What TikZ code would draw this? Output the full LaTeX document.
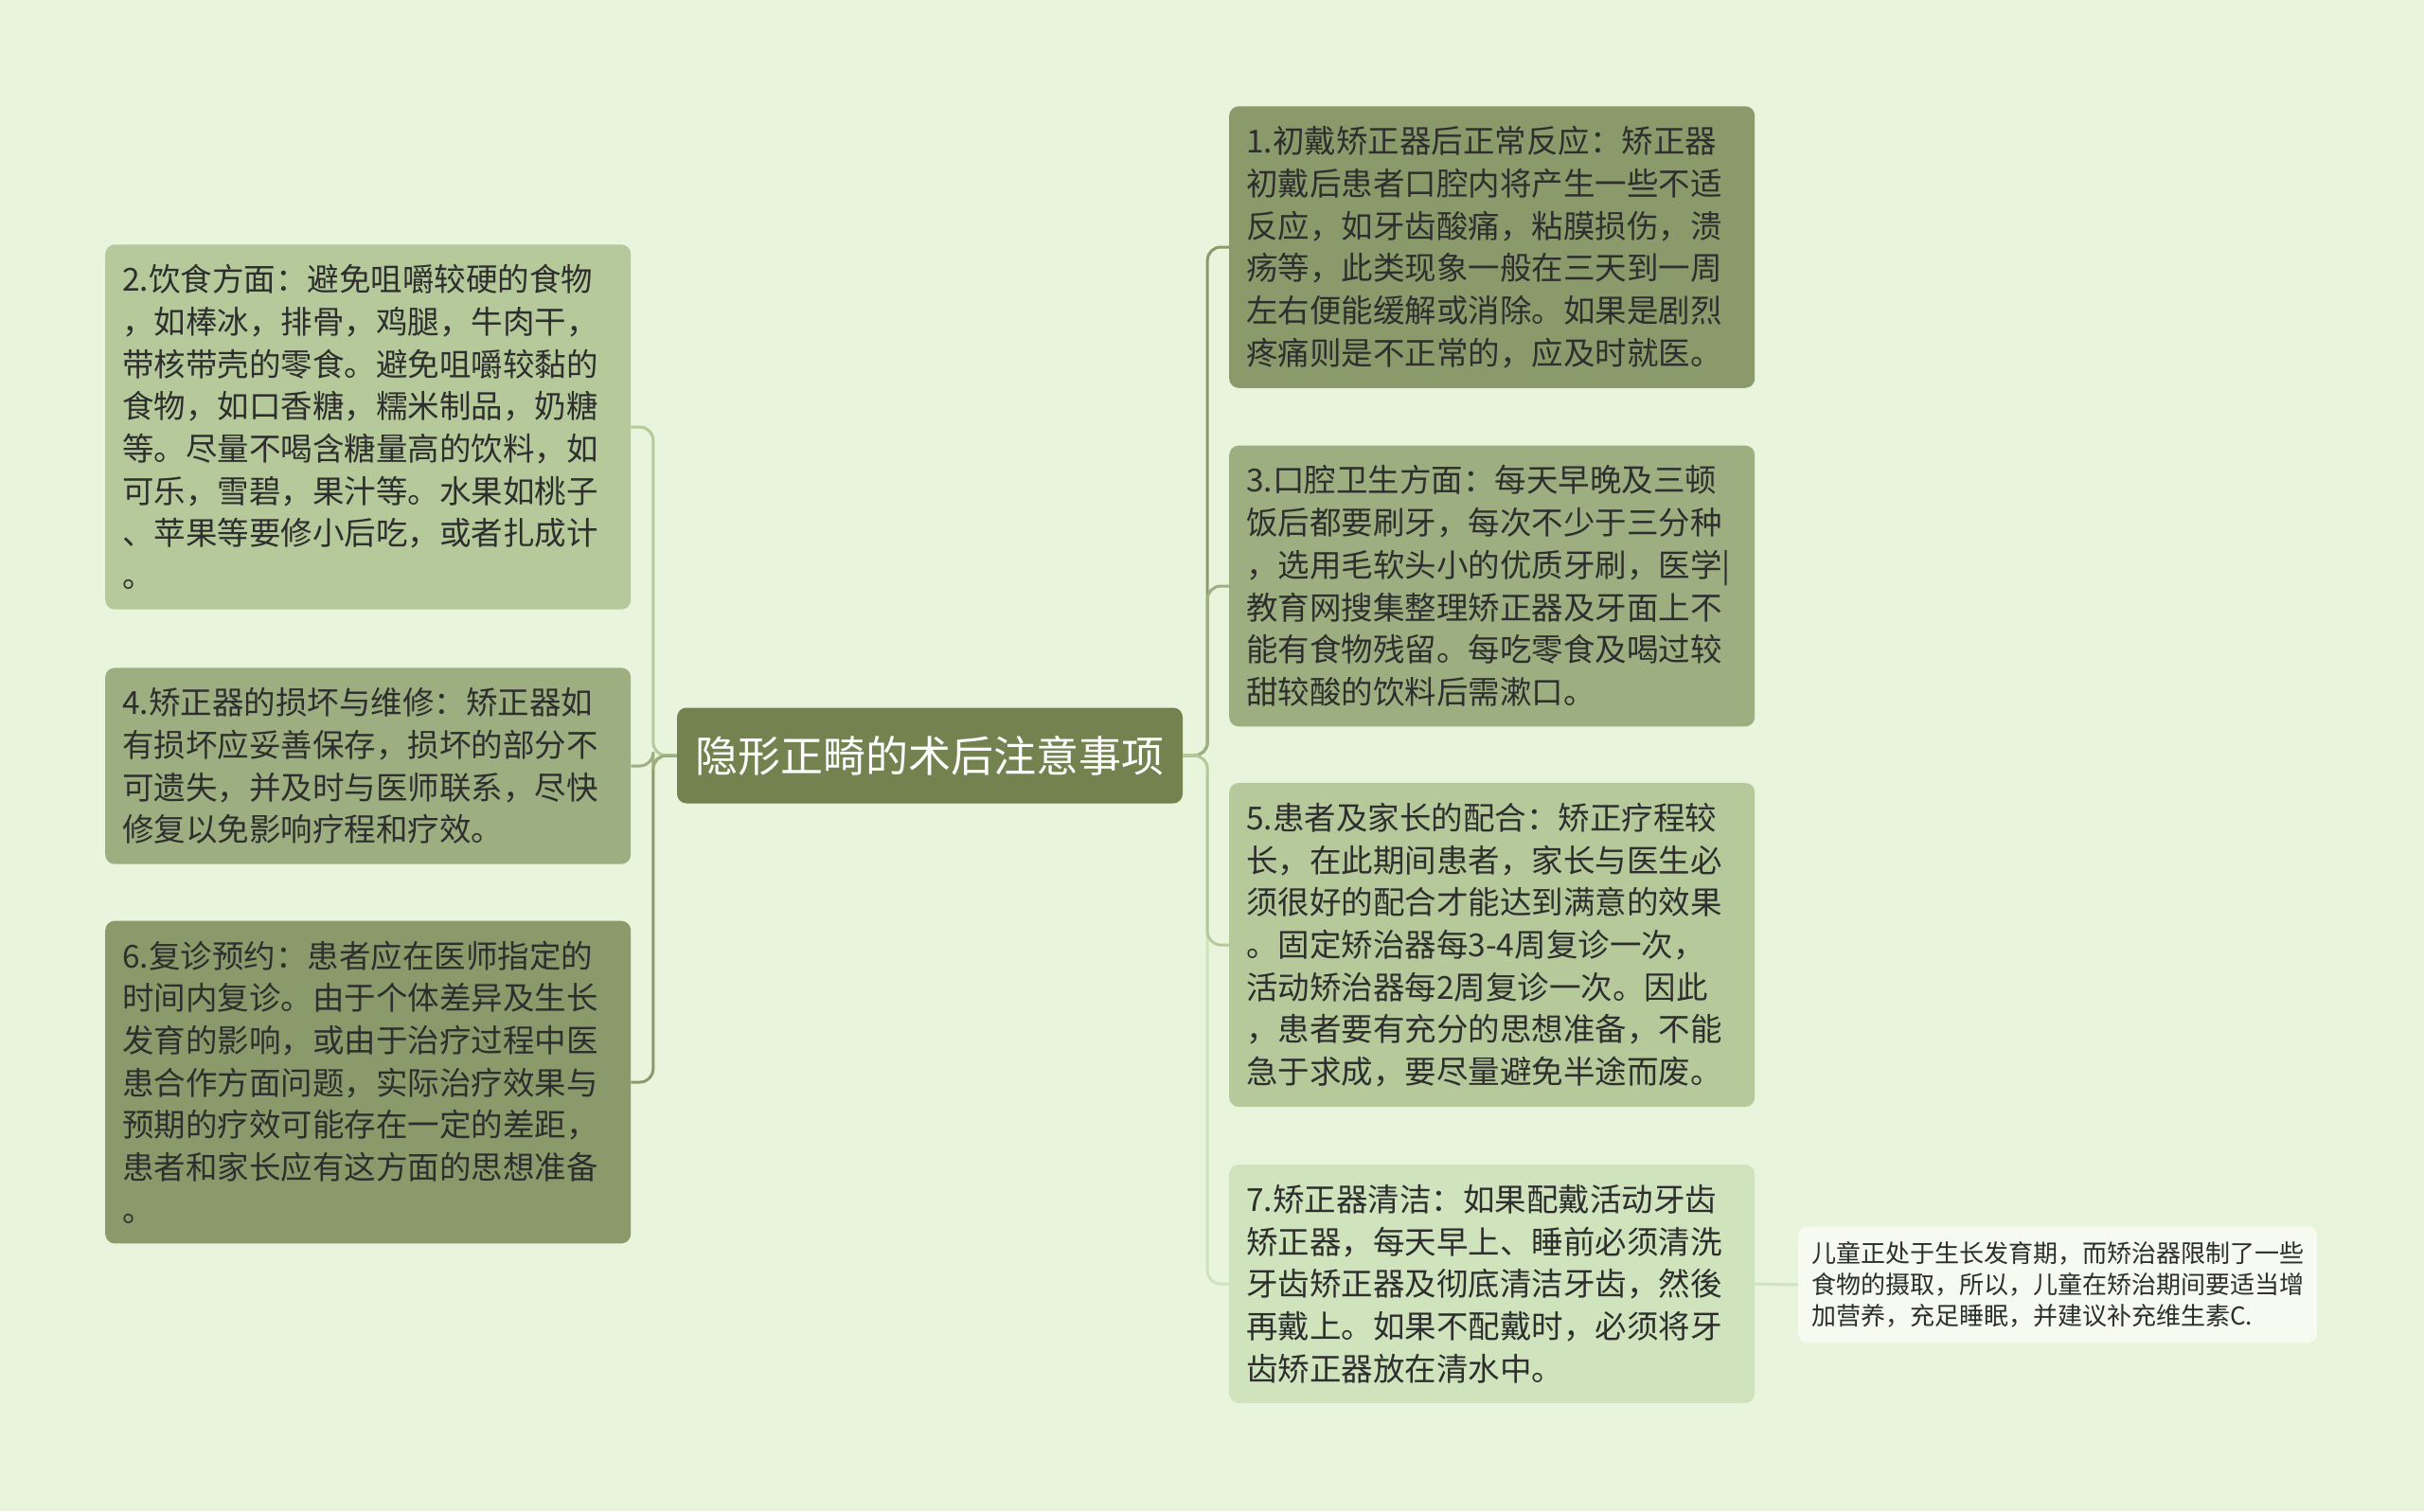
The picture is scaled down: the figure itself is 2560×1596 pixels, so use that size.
\documentclass[tikz,border=0pt]{standalone}
\usepackage{fontspec}
\newfontfamily\cjk{Noto Sans CJK SC}
\definecolor{bg}{HTML}{E8F4DC}
\definecolor{rootc}{HTML}{74824F}
\definecolor{darkc}{HTML}{8A9A6A}
\definecolor{midc}{HTML}{9DAE80}
\definecolor{lightc}{HTML}{B5C99A}
\definecolor{palec}{HTML}{CFE3BD}
\definecolor{notec}{HTML}{F6FAF1}
\definecolor{txt}{HTML}{2E2E2E}
\begin{document}
\begin{tikzpicture}[x=1pt,y=-1pt,line join=round,
  box/.style={rounded corners=10pt,anchor=west,align=left,text width=519pt,
    inner xsep=18pt,inner ysep=21pt,text=txt,font=\cjk\fontsize{33.5}{44.7}\selectfont},
  link/.style={line width=3pt,rounded corners=14pt}]
  \fill[bg] (0,0) rectangle (2560,1596);
  \useasboundingbox (0,0) rectangle (2560,1596);
  \node[rounded corners=10pt,fill=rootc,text=white,minimum width=534pt,minimum height=101pt,
    font=\cjk\fontsize{45}{54}\selectfont] (root) at (982,798) {隐形正畸的术后注意事项};
  \node[box,fill=lightc] (diet) at (111,451) {2.饮食方面：避免咀嚼较硬的食物\\，如棒冰，排骨，鸡腿，牛肉干，\\带核带壳的零食。避免咀嚼较黏的\\食物，如口香糖，糯米制品，奶糖\\等。尽量不喝含糖量高的饮料，如\\可乐，雪碧，果汁等。水果如桃子\\、苹果等要修小后吃，或者扎成计\\。};
  \node[box,fill=midc] (repair) at (111,809) {4.矫正器的损坏与维修：矫正器如\\有损坏应妥善保存，损坏的部分不\\可遗失，并及时与医师联系，尽快\\修复以免影响疗程和疗效。};
  \node[box,fill=darkc] (visit) at (111,1143) {6.复诊预约：患者应在医师指定的\\时间内复诊。由于个体差异及生长\\发育的影响，或由于治疗过程中医\\患合作方面问题，实际治疗效果与\\预期的疗效可能存在一定的差距，\\患者和家长应有这方面的思想准备\\。};
  \node[box,fill=darkc] (react) at (1298,261) {1.初戴矫正器后正常反应：矫正器\\初戴后患者口腔内将产生一些不适\\反应，如牙齿酸痛，粘膜损伤，溃\\疡等，此类现象一般在三天到一周\\左右便能缓解或消除。如果是剧烈\\疼痛则是不正常的，应及时就医。};
  \node[box,fill=midc] (hyg) at (1298,619) {3.口腔卫生方面：每天早晚及三顿\\饭后都要刷牙，每次不少于三分种\\，选用毛软头小的优质牙刷，医学|\\教育网搜集整理矫正器及牙面上不\\能有食物残留。每吃零食及喝过较\\甜较酸的饮料后需漱口。};
  \node[box,fill=lightc] (coop) at (1298,998) {5.患者及家长的配合：矫正疗程较\\长，在此期间患者，家长与医生必\\须很好的配合才能达到满意的效果\\。固定矫治器每3-4周复诊一次，\\活动矫治器每2周复诊一次。因此\\，患者要有充分的思想准备，不能\\急于求成，要尽量避免半途而废。};
  \node[box,fill=palec] (clean) at (1298,1356) {7.矫正器清洁：如果配戴活动牙齿\\矫正器，每天早上、睡前必须清洗\\牙齿矫正器及彻底清洁牙齿，然後\\再戴上。如果不配戴时，必须将牙\\齿矫正器放在清水中。};
  \node[rounded corners=10pt,fill=notec,anchor=west,align=left,text width=520pt,
    inner xsep=14pt,inner ysep=16pt,text=txt,font=\cjk\fontsize{26}{33}\selectfont] (note) at (1899,1357)
    {儿童正处于生长发育期，而矫治器限制了一些\\食物的摄取，所以，儿童在矫治期间要适当增\\加营养，充足睡眠，并建议补充维生素C.};
  \draw[link,lightc] (root.west) -- ++(-25,0) |- (diet.east);
  \draw[link,darkc] (root.west) -- ++(-25,0) |- (visit.east);
  \draw[link,midc] (root.west) -- ++(-25,0) |- (repair.east);
  \draw[link,darkc] (root.east) -- ++(26,0) |- (react.west);
  \draw[link,palec] (root.east) -- ++(26,0) |- (clean.west);
  \draw[link,midc] (root.east) -- ++(26,0) |- (hyg.west);
  \draw[link,lightc] (root.east) -- ++(26,0) |- (coop.west);
  \draw[link,palec] (clean.east) -- (note.west);
\end{tikzpicture}
\end{document}
